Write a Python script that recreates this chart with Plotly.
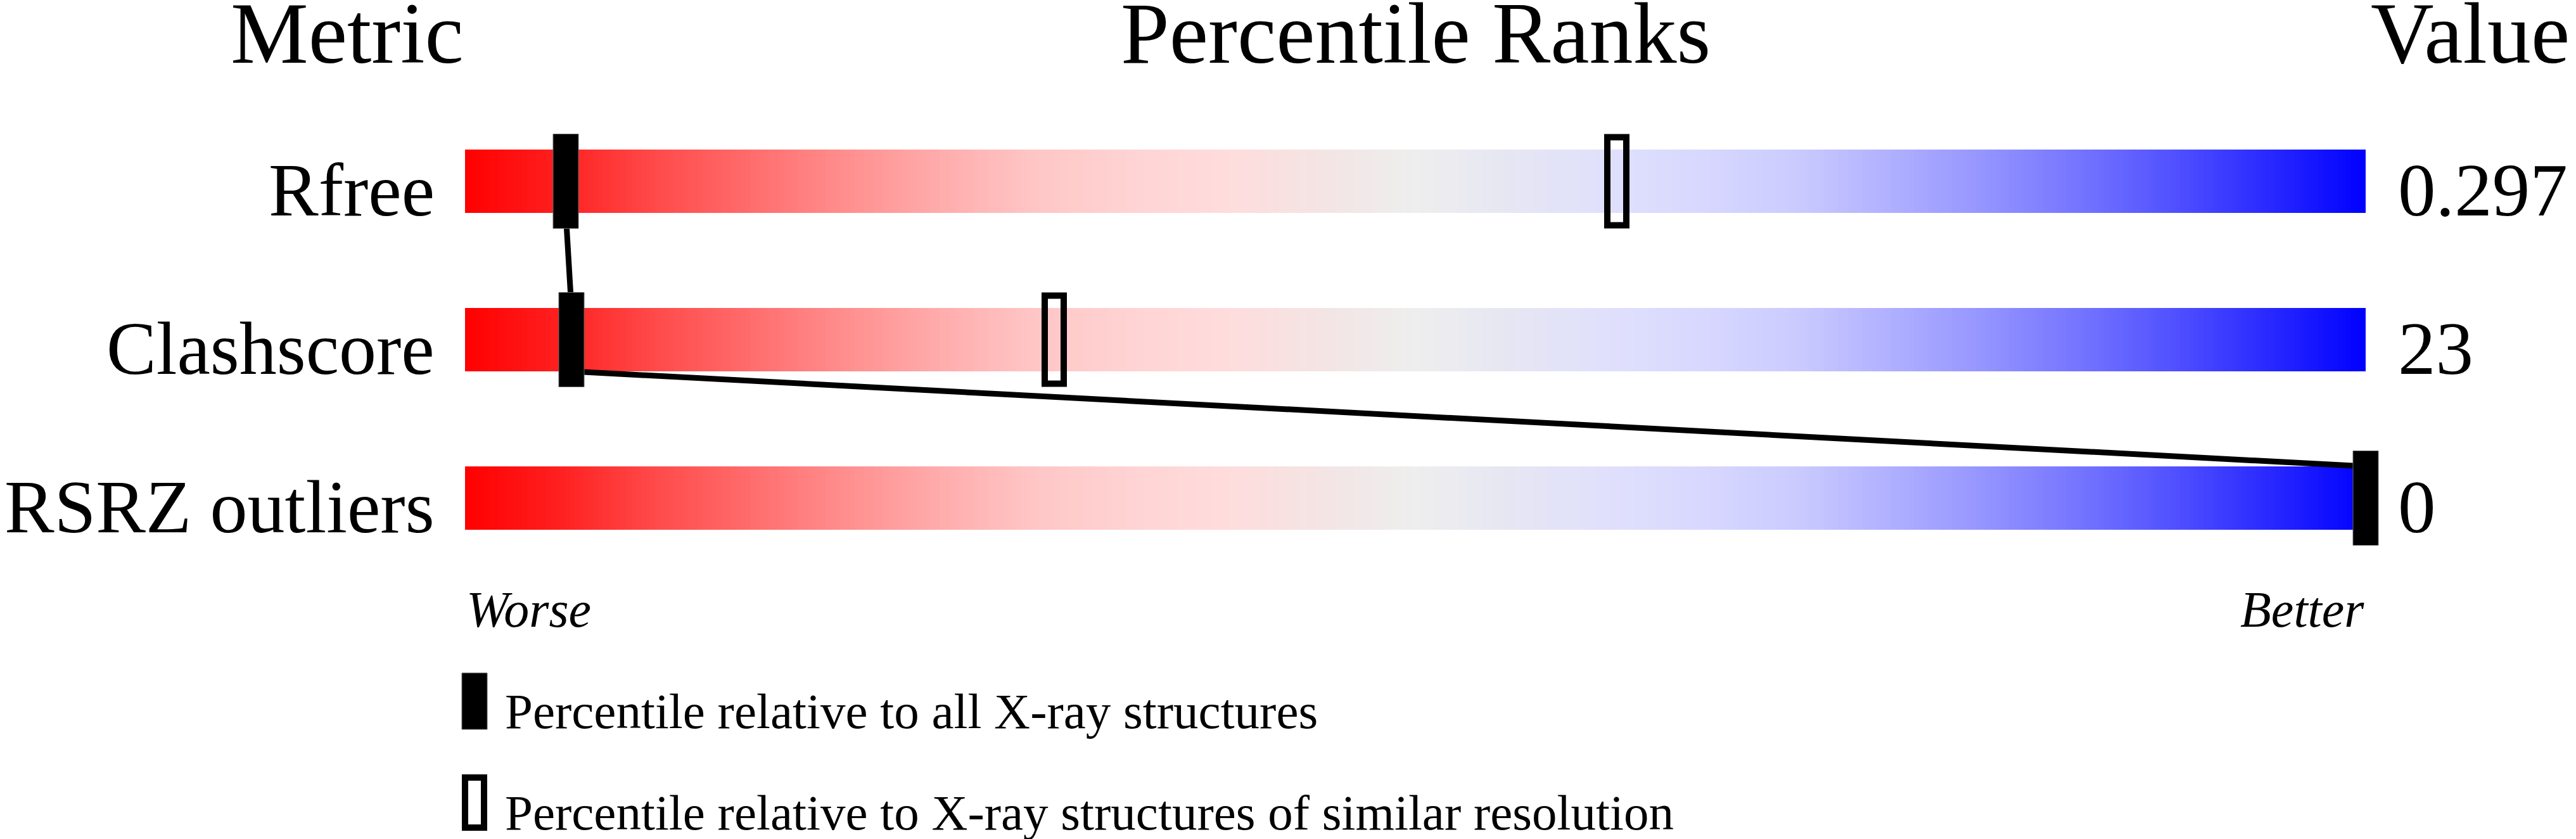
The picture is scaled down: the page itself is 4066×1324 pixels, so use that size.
import numpy as np
import plotly.graph_objects as go

# ---------------- data ----------------
metrics = ["Rfree", "Clashscore", "RSRZ outliers"]
values = ["0.297", "23", "0"]
pct_all = [5.3, 5.6, 100.0]          # percentile relative to all X-ray structures
pct_similar = [60.6, 31.0, None]     # percentile relative to similar resolution
legend_labels = ["Percentile relative to all X-ray structures",
                 "Percentile relative to X-ray structures of similar resolution"]
col_titles = ["Metric", "Percentile Ranks", "Value"]
end_labels = ["Worse", "Better"]

# ---------------- layout constants (pixels) ----------------
W, H = 4066, 1324
BAR_L, BAR_R = 734, 3734
PX = (BAR_R - BAR_L) / 100.0     # pixels per percentile unit
ROW0, ROW_STEP = 286, 250        # centre of first bar, spacing between bars
BAR_HALF = 50 / ROW_STEP
MARK_HALF_H = 74.5 / ROW_STEP
FONT = "Liberation Serif, Times New Roman, serif"

def py(p):  # pixel y -> paper y
    return 1 - p / H

def px(p):  # pixel x -> paper x
    return p / W

colorscale = [
    [0.00, "#ff0000"], [0.05, "#ff2020"], [0.10, "#ff4a4a"], [0.15, "#ff6c6c"],
    [0.20, "#ff8e8e"], [0.25, "#ffacac"], [0.30, "#ffc6c6"], [0.35, "#ffd3d3"],
    [0.40, "#ffdcdc"], [0.45, "#f4e4e4"], [0.50, "#eeeeee"], [0.55, "#e6e6f3"],
    [0.60, "#e0e0fc"], [0.65, "#d8d8ff"], [0.70, "#cbcbff"], [0.75, "#b0b0ff"],
    [0.80, "#9494ff"], [0.85, "#7474ff"], [0.90, "#5050ff"], [0.95, "#2828ff"],
    [1.00, "#0000ff"],
]

fig = go.Figure()

edges = np.linspace(0, 100, 401)
centres = (edges[:-1] + edges[1:]) / 2
for i, m in enumerate(metrics):
    fig.add_trace(go.Heatmap(
        x=edges, y=[i - BAR_HALF, i + BAR_HALF], z=[centres],
        colorscale=colorscale, zmin=0, zmax=100, showscale=False,
        hoverinfo="skip",
    ))

# connecting line between the "all structures" markers
lx, ly = [], []
for i, p in enumerate(pct_all):
    lx += [p, p]
    ly += [i - BAR_HALF, i + BAR_HALF]
fig.add_trace(go.Scatter(x=lx[1:-1], y=ly[1:-1], mode="lines",
                         line=dict(color="black", width=9),
                         hoverinfo="skip", showlegend=False))

shapes = []
for i, p in enumerate(pct_all):
    shapes.append(dict(type="rect", xref="x", yref="y",
                       x0=p - 20 / PX, x1=p + 20 / PX,
                       y0=i - MARK_HALF_H, y1=i + MARK_HALF_H,
                       fillcolor="black", line=dict(color="#666", width=1),
                       layer="above"))
for i, p in enumerate(pct_similar):
    if p is None:
        continue
    shapes.append(dict(type="rect", xref="x", yref="y",
                       x0=p - 15 / PX, x1=p + 15 / PX,
                       y0=i - (MARK_HALF_H - 5 / ROW_STEP), y1=i + (MARK_HALF_H - 5 / ROW_STEP),
                       fillcolor="rgba(0,0,0,0)", line=dict(color="black", width=10),
                       layer="above"))

# legend markers (paper coords)
shapes.append(dict(type="rect", xref="paper", yref="paper",
                   x0=px(729), x1=px(769), y0=py(1151), y1=py(1062),
                   fillcolor="black", line=dict(color="#666", width=1)))
shapes.append(dict(type="rect", xref="paper", yref="paper",
                   x0=px(734), x1=px(764), y0=py(1306), y1=py(1227),
                   fillcolor="white", line=dict(color="black", width=10)))

ann = []
# column titles
ann.append(dict(text=col_titles[0], x=0, xref="x", xanchor="right",
                y=py(52), yref="paper", yanchor="middle",
                font=dict(size=138)))
ann.append(dict(text=col_titles[1], x=50, xref="x", xanchor="center",
                y=py(52), yref="paper", yanchor="middle",
                font=dict(size=138)))
ann.append(dict(text=col_titles[2], x=px(4058), xref="paper", xanchor="right",
                y=py(52), yref="paper", yanchor="middle",
                font=dict(size=138)))
# row labels and values
for i, (m, v) in enumerate(zip(metrics, values)):
    ann.append(dict(text=m, x=0, xref="x", xanchor="right", xshift=-46,
                    y=i + 14 / ROW_STEP, yref="y", yanchor="middle",
                    font=dict(size=118)))
    ann.append(dict(text=v, x=100, xref="x", xanchor="left", xshift=49,
                    y=i + 14 / ROW_STEP, yref="y", yanchor="middle",
                    font=dict(size=119)))
# worse / better
ann.append(dict(text="<i>%s</i>" % end_labels[0], x=0, xref="x", xanchor="left",
                y=py(962), yref="paper", yanchor="middle", font=dict(size=80)))
ann.append(dict(text="<i>%s</i>" % end_labels[1], x=100, xref="x", xanchor="right",
                y=py(962), yref="paper", yanchor="middle", font=dict(size=80)))
# legend text
ann.append(dict(text=legend_labels[0], x=px(795), xref="paper", xanchor="left",
                y=py(1122), yref="paper", yanchor="middle", font=dict(size=79)))
ann.append(dict(text=legend_labels[1], x=px(795), xref="paper", xanchor="left",
                y=py(1282), yref="paper", yanchor="middle", font=dict(size=79)))

for a in ann:
    a["showarrow"] = False
    a["font"]["family"] = FONT
    a["font"]["color"] = "black"

fig.update_layout(
    width=W, height=H, autosize=False,
    margin=dict(l=0, r=0, t=0, b=0, pad=0),
    paper_bgcolor="white", plot_bgcolor="white",
    xaxis=dict(range=[-BAR_L / PX, (W - BAR_L) / PX], visible=False, fixedrange=True),
    yaxis=dict(range=[(H - ROW0) / ROW_STEP, -ROW0 / ROW_STEP], visible=False, fixedrange=True),
    shapes=shapes, annotations=ann, showlegend=False,
    font=dict(family=FONT),
)

fig.write_html("out.html", config={"displayModeBar": False},
               post_script="document.body.style.margin='0px';document.body.style.overflow='hidden';")
